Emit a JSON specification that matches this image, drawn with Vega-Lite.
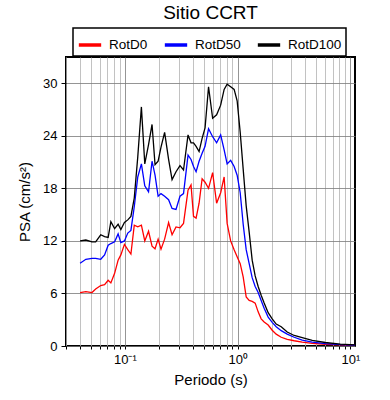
{
  "$schema": "https://vega.github.io/schema/vega-lite/v6.json",
  "autosize": "none",
  "padding": {"left": 66, "top": 57, "right": 34, "bottom": 54},
  "width": 289,
  "height": 289,
  "title": {"text": "Sitio CCRT", "font": "Liberation Sans", "fontSize": 19, "fontWeight": "normal", "color": "black", "anchor": "middle", "frame": "group", "offset": 4},
  "config": {
    "view": {"stroke": "black", "strokeWidth": 2},
    "axis": {"labelFont": "Liberation Sans", "titleFont": "Liberation Sans", "labelColor": "black", "titleColor": "black", "labelFontSize": 13, "titleFontSize": 15, "titleFontWeight": "normal", "tickColor": "black", "domain": false, "gridColor": "#7a7a7a", "gridWidth": 0.8, "gridOpacity": 1}
  },
  "data": {"values": [
    {"T": 0.040, "RotD0": 6.1, "RotD50": 9.45, "RotD100": 12.0},
    {"T": 0.045, "RotD0": 6.2, "RotD50": 9.9, "RotD100": 12.1},
    {"T": 0.051, "RotD0": 6.1, "RotD50": 10.0, "RotD100": 11.9},
    {"T": 0.055, "RotD0": 6.5, "RotD50": 10.0, "RotD100": 11.9},
    {"T": 0.061, "RotD0": 6.9, "RotD50": 9.9, "RotD100": 12.7},
    {"T": 0.066, "RotD0": 7.0, "RotD50": 10.4, "RotD100": 12.5},
    {"T": 0.071, "RotD0": 7.5, "RotD50": 11.5, "RotD100": 12.4},
    {"T": 0.075, "RotD0": 7.2, "RotD50": 11.7, "RotD100": 14.2},
    {"T": 0.081, "RotD0": 8.3, "RotD50": 11.9, "RotD100": 13.4},
    {"T": 0.087, "RotD0": 9.8, "RotD50": 12.8, "RotD100": 13.9},
    {"T": 0.092, "RotD0": 10.4, "RotD50": 11.8, "RotD100": 13.3},
    {"T": 0.099, "RotD0": 11.6, "RotD50": 12.0, "RotD100": 14.1},
    {"T": 0.106, "RotD0": 11.0, "RotD50": 12.9, "RotD100": 14.4},
    {"T": 0.113, "RotD0": 10.5, "RotD50": 13.2, "RotD100": 14.8},
    {"T": 0.121, "RotD0": 13.8, "RotD50": 15.9, "RotD100": 16.9},
    {"T": 0.130, "RotD0": 13.6, "RotD50": 19.3, "RotD100": 21.6},
    {"T": 0.140, "RotD0": 13.8, "RotD50": 20.8, "RotD100": 27.3},
    {"T": 0.150, "RotD0": 12.0, "RotD50": 18.3, "RotD100": 20.8},
    {"T": 0.162, "RotD0": 13.1, "RotD50": 17.6, "RotD100": 23.0},
    {"T": 0.174, "RotD0": 11.4, "RotD50": 21.1, "RotD100": 25.3},
    {"T": 0.185, "RotD0": 11.1, "RotD50": 19.5, "RotD100": 20.7},
    {"T": 0.197, "RotD0": 12.2, "RotD50": 17.1, "RotD100": 21.1},
    {"T": 0.209, "RotD0": 11.05, "RotD50": 17.4, "RotD100": 22.7},
    {"T": 0.225, "RotD0": 12.2, "RotD50": 17.1, "RotD100": 24.4},
    {"T": 0.244, "RotD0": 14.1, "RotD50": 16.7, "RotD100": 21.3},
    {"T": 0.262, "RotD0": 12.7, "RotD50": 15.7, "RotD100": 19.0},
    {"T": 0.284, "RotD0": 13.6, "RotD50": 15.6, "RotD100": 19.9},
    {"T": 0.308, "RotD0": 13.5, "RotD50": 17.1, "RotD100": 20.6},
    {"T": 0.331, "RotD0": 14.0, "RotD50": 17.4, "RotD100": 20.1},
    {"T": 0.363, "RotD0": 17.8, "RotD50": 21.8, "RotD100": 24.1},
    {"T": 0.386, "RotD0": 18.4, "RotD50": 21.3, "RotD100": 23.2},
    {"T": 0.406, "RotD0": 14.8, "RotD50": 20.5, "RotD100": 23.2},
    {"T": 0.428, "RotD0": 14.6, "RotD50": 19.9, "RotD100": 22.8},
    {"T": 0.455, "RotD0": 16.3, "RotD50": 21.1, "RotD100": 22.2},
    {"T": 0.484, "RotD0": 19.1, "RotD50": 22.0, "RotD100": 23.7},
    {"T": 0.514, "RotD0": 18.7, "RotD50": 22.8, "RotD100": 24.9},
    {"T": 0.552, "RotD0": 18.0, "RotD50": 24.8, "RotD100": 29.6},
    {"T": 0.600, "RotD0": 19.8, "RotD50": 23.9, "RotD100": 26.0},
    {"T": 0.651, "RotD0": 16.3, "RotD50": 23.2, "RotD100": 26.4},
    {"T": 0.707, "RotD0": 17.5, "RotD50": 24.1, "RotD100": 27.5},
    {"T": 0.759, "RotD0": 19.3, "RotD50": 22.4, "RotD100": 29.3},
    {"T": 0.807, "RotD0": 14.0, "RotD50": 20.8, "RotD100": 29.9},
    {"T": 0.867, "RotD0": 12.0, "RotD50": 21.2, "RotD100": 29.6},
    {"T": 0.931, "RotD0": 11.0, "RotD50": 20.5, "RotD100": 29.3},
    {"T": 0.990, "RotD0": 10.2, "RotD50": 19.5, "RotD100": 28.0},
    {"T": 1.054, "RotD0": 9.4, "RotD50": 17.5, "RotD100": 24.4},
    {"T": 1.120, "RotD0": 7.9, "RotD50": 13.9, "RotD100": 20.2},
    {"T": 1.191, "RotD0": 5.6, "RotD50": 11.0, "RotD100": 16.0},
    {"T": 1.266, "RotD0": 5.2, "RotD50": 9.4, "RotD100": 13.0},
    {"T": 1.346, "RotD0": 5.1, "RotD50": 7.8, "RotD100": 9.8},
    {"T": 1.431, "RotD0": 4.9, "RotD50": 6.8, "RotD100": 8.0},
    {"T": 1.521, "RotD0": 3.9, "RotD50": 6.1, "RotD100": 6.8},
    {"T": 1.617, "RotD0": 3.1, "RotD50": 5.2, "RotD100": 5.8},
    {"T": 1.719, "RotD0": 2.75, "RotD50": 4.3, "RotD100": 4.9},
    {"T": 1.866, "RotD0": 2.4, "RotD50": 3.3, "RotD100": 3.8},
    {"T": 2.026, "RotD0": 1.8, "RotD50": 2.7, "RotD100": 3.1},
    {"T": 2.199, "RotD0": 1.35, "RotD50": 2.2, "RotD100": 2.5},
    {"T": 2.436, "RotD0": 1.0, "RotD50": 1.75, "RotD100": 2.2},
    {"T": 2.754, "RotD0": 0.75, "RotD50": 1.35, "RotD100": 1.6},
    {"T": 3.177, "RotD0": 0.6, "RotD50": 1.0, "RotD100": 1.2},
    {"T": 3.741, "RotD0": 0.45, "RotD50": 0.68, "RotD100": 0.95},
    {"T": 4.592, "RotD0": 0.3, "RotD50": 0.45, "RotD100": 0.65},
    {"T": 5.995, "RotD0": 0.2, "RotD50": 0.27, "RotD100": 0.4},
    {"T": 8.15, "RotD0": 0.13, "RotD50": 0.15, "RotD100": 0.22},
    {"T": 11.0, "RotD0": 0.1, "RotD50": 0.1, "RotD100": 0.13}
  ]},
  "transform": [{"fold": ["RotD0", "RotD50", "RotD100"], "as": ["serie", "PSA"]}],
  "mark": {"type": "line", "strokeWidth": 1.3, "clip": true},
  "encoding": {
    "x": {
      "field": "T", "type": "quantitative",
      "scale": {"type": "log", "domain": [0.03, 11], "nice": false},
      "axis": {
        "title": "Periodo (s)", "titlePadding": 6,
        "values": [0.03, 0.04, 0.05, 0.06, 0.07, 0.08, 0.09, 0.1, 0.2, 0.3, 0.4, 0.5, 0.6, 0.7, 0.8, 0.9, 1, 2, 3, 4, 5, 6, 7, 8, 9, 10],
        "labelExpr": "datum.value == 0.1 ? '10⁻¹' : datum.value == 1 ? '10⁰' : datum.value == 10 ? '10¹' : ''",
        "gridColor": {"condition": {"test": "datum.value == 0.1 || datum.value == 1 || datum.value == 10", "value": "#7a7a7a"}, "value": "#b3b3b3"},
        "tickSize": 3, "labelPadding": 4, "labelFlush": false, "labelOverlap": false
      }
    },
    "y": {
      "field": "PSA", "type": "quantitative",
      "scale": {"domain": [0, 33], "nice": false},
      "axis": {"title": "PSA (cm/s²)", "values": [0, 6, 12, 18, 24, 30], "tickSize": 5, "labelPadding": 4, "titlePadding": 10}
    },
    "color": {
      "field": "serie", "type": "nominal",
      "scale": {"domain": ["RotD0", "RotD50", "RotD100"], "range": ["#ff0000", "#0000ff", "#000000"]},
      "legend": {
        "title": null, "orient": "none", "legendX": 7, "legendY": -29, "direction": "horizontal",
        "symbolType": "stroke", "symbolSize": 500, "symbolStrokeWidth": 3.5,
        "labelFont": "Liberation Sans", "labelFontSize": 13.5, "labelColor": "black",
        "strokeColor": "black", "padding": 4, "columnPadding": 9, "labelOffset": 6,
        "encode": {"legend": {"update": {"strokeWidth": {"value": 1.5}}}}
      }
    }
  }
}
